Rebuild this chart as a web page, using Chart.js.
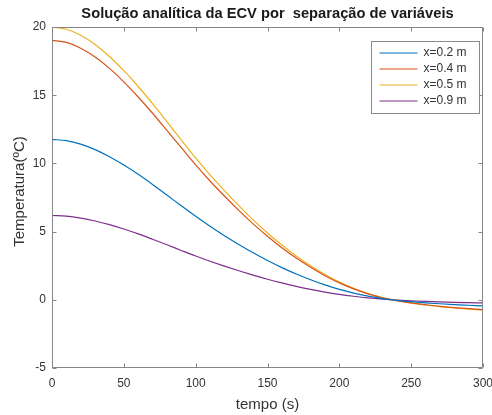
<!DOCTYPE html>
<html>
<head>
<meta charset="utf-8">
<script src="https://cdn.jsdelivr.net/npm/chart.js@4/dist/chart.umd.min.js"></script>
<style>
  html, body { margin: 0; padding: 0; background: #fff; overflow: hidden; }
  #wrap { position: relative; width: 492px; height: 415px; }
</style>
</head>
<body>
<div id="wrap"><canvas id="c" width="492" height="415"></canvas></div>
<script>
// tempo (s)
const tempo = [0, 10, 20, 30, 40, 50, 60, 70, 80, 90, 100, 110, 120, 130, 140, 150,
               160, 170, 180, 190, 200, 210, 220, 230, 240, 250, 260, 270, 280, 290, 300];

// temperatura (ºC) em cada posição x
const tX02 = [11.76, 11.67, 11.41, 11.01, 10.49, 9.88, 9.20, 8.46, 7.68, 6.89, 6.12, 5.39, 4.70, 4.06, 3.45, 2.88,
              2.36, 1.89, 1.47, 1.09, 0.76, 0.49, 0.27, 0.09, -0.04, -0.14, -0.22, -0.29, -0.35, -0.40, -0.45];
const tX04 = [19.02, 18.87, 18.45, 17.80, 16.97, 15.98, 14.87, 13.68, 12.42, 11.15, 9.89, 8.71, 7.61, 6.56, 5.57, 4.66,
              3.82, 3.06, 2.38, 1.77, 1.24, 0.80, 0.44, 0.15, -0.06, -0.23, -0.36, -0.48, -0.57, -0.65, -0.72];
const tX05 = [20.00, 19.84, 19.40, 18.72, 17.84, 16.80, 15.64, 14.38, 13.06, 11.72, 10.40, 9.16, 8.00, 6.90, 5.86, 4.90,
              4.02, 3.22, 2.50, 1.86, 1.30, 0.84, 0.46, 0.16, -0.06, -0.24, -0.38, -0.50, -0.60, -0.68, -0.76];
const tX09 = [6.18, 6.13, 5.99, 5.78, 5.51, 5.19, 4.83, 4.44, 4.04, 3.62, 3.21, 2.83, 2.47, 2.13, 1.81, 1.51,
              1.24, 0.99, 0.77, 0.57, 0.40, 0.26, 0.14, 0.05, -0.02, -0.07, -0.12, -0.15, -0.19, -0.21, -0.23];

const legendas = ['x=0.2 m', 'x=0.4 m', 'x=0.5 m', 'x=0.9 m'];
const cores = ['#0072BD', '#D95319', '#EDB120', '#7E2F8E'];

const ticksTempo = [0, 50, 100, 150, 200, 250, 300];
const ticksTemp = [-5, 0, 5, 10, 15, 20];

const tituloY = 'Temperatura(ºC)';

const FONTE = "'Liberation Sans', Arial, Helvetica, sans-serif";
const COR_TEXTO = '#333333';
const COR_EIXO = '#858585';

function pontos(valores) {
  return tempo.map((t, i) => ({ x: t, y: valores[i] }));
}

const series = [tX02, tX04, tX05, tX09];

// caixa dos eixos com marcas de escala para dentro, nos quatro lados
const moldura = {
  id: 'moldura',
  afterDatasetsDraw(chart) {
    const { ctx, chartArea: a, scales: { x, y } } = chart;
    const L = 4;
    const l = Math.round(a.left) + 0.5, r = Math.round(a.right) - 0.5;
    const t = Math.round(a.top) + 0.5, b = Math.round(a.bottom) - 0.5;
    ctx.save();
    ctx.strokeStyle = COR_EIXO;
    ctx.lineWidth = 1;
    ctx.beginPath();
    ctx.rect(l, t, r - l, b - t);
    x.ticks.forEach(tk => {
      const px = Math.round(x.getPixelForValue(tk.value)) + 0.5;
      ctx.moveTo(px, b); ctx.lineTo(px, b - L);
      ctx.moveTo(px, t); ctx.lineTo(px, t + L);
    });
    y.ticks.forEach(tk => {
      const py = Math.round(y.getPixelForValue(tk.value)) + 0.5;
      ctx.moveTo(l, py); ctx.lineTo(l + L, py);
      ctx.moveTo(r, py); ctx.lineTo(r - L, py);
    });
    ctx.stroke();
    ctx.restore();
  }
};

// rótulo do eixo vertical e legenda no canto superior direito
const anotacoes = {
  id: 'anotacoes',
  afterDraw(chart) {
    const { ctx, chartArea: a } = chart;
    ctx.save();
    ctx.fillStyle = COR_TEXTO;
    ctx.font = '15px ' + FONTE;
    ctx.textAlign = 'center';
    ctx.textBaseline = 'middle';
    ctx.translate(20, (a.top + a.bottom) / 2 - 6);
    ctx.rotate(-Math.PI / 2);
    ctx.fillText(tituloY, 0, 0);
    ctx.restore();

    const w = 108, h = 72;
    const x0 = Math.round(a.right) - 4 - w + 0.5;
    const y0 = Math.round(a.top) + 14 + 0.5;
    ctx.save();
    ctx.fillStyle = '#ffffff';
    ctx.fillRect(x0, y0, w, h);
    ctx.strokeStyle = '#8a8a8a';
    ctx.lineWidth = 1;
    ctx.strokeRect(x0, y0, w, h);
    ctx.font = '12px ' + FONTE;
    ctx.textBaseline = 'middle';
    ctx.textAlign = 'left';
    chart.data.datasets.forEach((ds, i) => {
      const yy = y0 + 11.5 + i * 16;
      ctx.strokeStyle = cores[i];
      ctx.lineWidth = 1.2;
      ctx.beginPath();
      ctx.moveTo(x0 + 8, yy);
      ctx.lineTo(x0 + 46, yy);
      ctx.stroke();
      ctx.fillStyle = COR_TEXTO;
      ctx.fillText(ds.label, x0 + 52, yy);
    });
    ctx.restore();
  }
};

new Chart(document.getElementById('c'), {
  type: 'line',
  data: {
    datasets: series.map((s, i) => ({
      label: legendas[i],
      data: pontos(s),
      borderColor: cores[i],
      backgroundColor: cores[i],
      borderWidth: 1.2,
      pointRadius: 0,
      cubicInterpolationMode: 'monotone',
      fill: false
    }))
  },
  options: {
    responsive: false,
    devicePixelRatio: 1,
    animation: false,
    layout: { padding: { left: 0, right: 9, top: 0, bottom: 0 } },
    plugins: {
      legend: { display: false },
      tooltip: { enabled: false },
      title: {
        display: true,
        fullSize: false,
        text: 'Solução analítica da ECV por  separação de variáveis',
        color: '#1a1a1a',
        font: { family: FONTE, size: 14.7, weight: 'bold' },
        padding: { top: 5, bottom: 4.4 }
      }
    },
    scales: {
      x: {
        type: 'linear',
        min: 0, max: 300,
        afterBuildTicks(s) { s.ticks = ticksTempo.map(v => ({ value: v })); },
        afterFit(s) { s.height = 47; s.paddingLeft = 0; s.paddingRight = 0; },
        grid: { display: false, drawTicks: false },
        border: { display: false },
        ticks: { padding: 8, maxRotation: 0, color: COR_TEXTO, font: { family: FONTE, size: 12 } },
        title: { display: true, text: 'tempo (s)', color: COR_TEXTO,
                 font: { family: FONTE, size: 15 }, padding: { top: 0, bottom: 1 } }
      },
      y: {
        type: 'linear',
        min: -5, max: 20,
        afterBuildTicks(s) { s.ticks = ticksTemp.map(v => ({ value: v })); },
        afterFit(s) { s.width = 52; s.paddingTop = 0; s.paddingBottom = 0; },
        grid: { display: false, drawTicks: false },
        border: { display: false },
        ticks: { padding: 6, color: COR_TEXTO, font: { family: FONTE, size: 12 } },
        title: { display: false }
      }
    }
  },
  plugins: [moldura, anotacoes]
});
</script>
</body>
</html>
